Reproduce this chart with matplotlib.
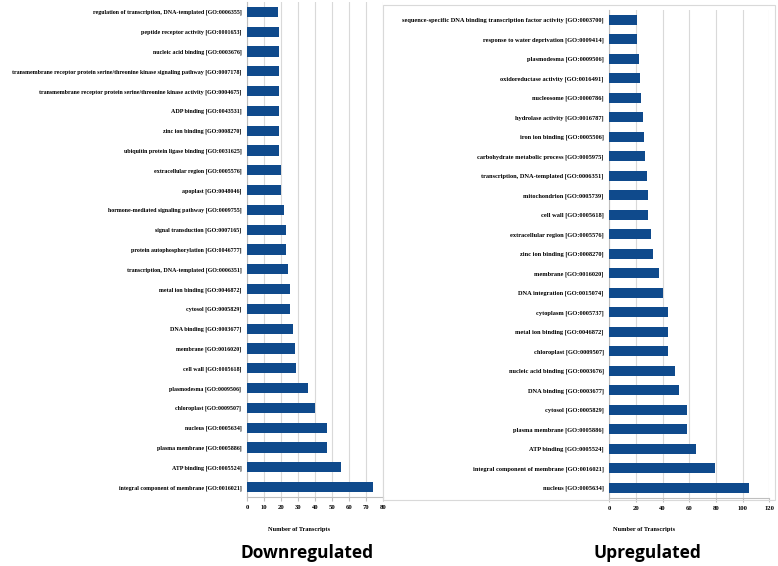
import matplotlib.pyplot as plt

# GO terms, listed top to bottom as in the figure
down_terms = [
    'regulation of transcription, DNA-templated [GO:0006355]',
    'peptide receptor activity [GO:0001653]',
    'nucleic acid binding [GO:0003676]',
    'transmembrane receptor protein serine/threonine kinase signaling pathway [GO:0007178]',
    'transmembrane receptor protein serine/threonine kinase activity [GO:0004675]',
    'ADP binding [GO:0043531]',
    'zinc ion binding [GO:0008270]',
    'ubiquitin protein ligase binding [GO:0031625]',
    'extracellular region [GO:0005576]',
    'apoplast [GO:0048046]',
    'hormone-mediated signaling pathway [GO:0009755]',
    'signal transduction [GO:0007165]',
    'protein autophosphorylation [GO:0046777]',
    'transcription, DNA-templated [GO:0006351]',
    'metal ion binding [GO:0046872]',
    'cytosol [GO:0005829]',
    'DNA binding [GO:0003677]',
    'membrane [GO:0016020]',
    'cell wall [GO:0005618]',
    'plasmodesma [GO:0009506]',
    'chloroplast [GO:0009507]',
    'nucleus [GO:0005634]',
    'plasma membrane [GO:0005886]',
    'ATP binding [GO:0005524]',
    'integral component of membrane [GO:0016021]',
]
down_counts = [18, 19, 19, 19, 19, 19, 19, 19, 20, 20, 22, 23, 23, 24, 25,
               25, 27, 28, 29, 36, 40, 47, 47, 55, 74]

up_terms = [
    'sequence-specific DNA binding transcription factor activity [GO:0003700]',
    'response to water deprivation [GO:0009414]',
    'plasmodesma [GO:0009506]',
    'oxidoreductase activity [GO:0016491]',
    'nucleosome [GO:0000786]',
    'hydrolase activity [GO:0016787]',
    'iron ion binding [GO:0005506]',
    'carbohydrate metabolic process [GO:0005975]',
    'transcription, DNA-templated [GO:0006351]',
    'mitochondrion [GO:0005739]',
    'cell wall [GO:0005618]',
    'extracellular region [GO:0005576]',
    'zinc ion binding [GO:0008270]',
    'membrane [GO:0016020]',
    'DNA integration [GO:0015074]',
    'cytoplasm [GO:0005737]',
    'metal ion binding [GO:0046872]',
    'chloroplast [GO:0009507]',
    'nucleic acid binding [GO:0003676]',
    'DNA binding [GO:0003677]',
    'cytosol [GO:0005829]',
    'plasma membrane [GO:0005886]',
    'ATP binding [GO:0005524]',
    'integral component of membrane [GO:0016021]',
    'nucleus [GO:0005634]',
]
up_counts = [21, 21, 22, 23, 24, 25, 26, 27, 28, 29, 29, 31, 33, 37, 40,
             44, 44, 44, 49, 52, 58, 58, 65, 79, 105]

down_ticks = list(range(0, 81, 10))
up_ticks = list(range(0, 121, 20))

bar_color = '#0f4a8c'
grid_color = '#d9d9d9'
serif = ['Liberation Serif', 'DejaVu Serif']

fig = plt.figure(figsize=(7.78, 5.66), dpi=100)
W, H = 778, 566


def panel(rect, terms, counts, ticks, bar_h, label_size):
    ax = fig.add_axes(rect)
    ypos = list(range(len(terms)))[::-1]
    ax.barh(ypos, counts, height=bar_h, color=bar_color, zorder=3)
    ax.set_ylim(-0.5, len(terms) - 0.5)
    ax.set_xlim(ticks[0], ticks[-1])
    ax.set_xticks(ticks)
    ax.set_xticklabels([str(t) for t in ticks], family=serif,
                       weight='bold', fontsize=4.8)
    ax.set_yticks(ypos)
    ax.set_yticklabels(terms, family=serif, weight='bold',
                       fontsize=label_size)
    ax.xaxis.grid(True, color=grid_color, linewidth=0.8, zorder=0)
    for s in ['top', 'right']:
        ax.spines[s].set_visible(False)
    for s in ['left', 'bottom']:
        ax.spines[s].set_color('#bfbfbf')
        ax.spines[s].set_linewidth(0.8)
    ax.tick_params(axis='y', length=0, pad=4)
    ax.tick_params(axis='x', length=3, color='#bfbfbf', pad=3)
    return ax


panel([247 / W, 69 / H, 136 / W, 495 / H], down_terms, down_counts,
      down_ticks, 0.52, 4.35)
panel([609.3 / W, 68.5 / H, 160 / W, 487.5 / H], up_terms, up_counts,
      up_ticks, 0.52, 4.6)

# light frame around the right chart area
fig.add_artist(plt.Rectangle((383 / W, 66 / H), 392 / W, 495 / H,
                             transform=fig.transFigure, fill=False,
                             edgecolor='#d9d9d9', linewidth=0.8))

fig.text(299 / W, 1 - 529 / H, 'Number of Transcripts', family=serif,
         weight='bold', fontsize=4.6, ha='center', va='center')
fig.text(644 / W, 1 - 529 / H, 'Number of Transcripts', family=serif,
         weight='bold', fontsize=4.6, ha='center', va='center')
fig.text(307 / W, 1 - 553 / H, 'Downregulated', family='Open Sans',
         weight='bold', fontsize=12.5, ha='center', va='center')
fig.text(647 / W, 1 - 553 / H, 'Upregulated', family='Open Sans',
         weight='bold', fontsize=12.5, ha='center', va='center')

fig.savefig('out.png', dpi=100)
